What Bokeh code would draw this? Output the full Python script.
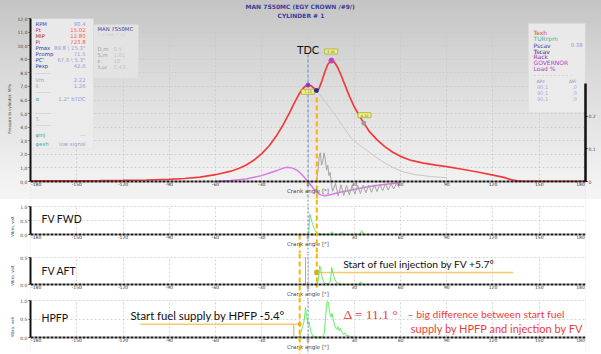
import numpy as np
from bokeh.plotting import figure
from bokeh.models import (Range1d, LinearAxis, FixedTicker, CustomJSTickFormatter,
                          Span, BoxAnnotation, Title)
from bokeh.layouts import column
from bokeh.embed import file_html
from bokeh.resources import INLINE
from bokeh.core.properties import value

# ---------------- data ----------------
angle_ticks = [-180, -150, -120, -90, -60, -30, 0, 30, 60, 90, 120, 150, 180]
pressure_ticks = [0, 1, 2, 3, 4, 5, 6, 7, 8, 9, 10, 11, 12]
right_ticks = [0, 0.1, 0.2]
vibro_ticks = [0, 0.5, 1.0]
vibro_ticks_aft = [0, 0.5]

# cylinder pressure, MPa
p_angle = [-180, -165, -150, -135, -120, -105, -90, -80, -70, -60, -50, -45, -40, -35, -30,
           -25, -20, -16, -12, -9, -6, -4, -2, 0, 2, 4, 5.5, 7, 9, 11, 13, 15.2, 17, 19, 21,
           24, 27, 30, 33, 36.2, 40, 45, 50, 55, 60, 67, 75, 83, 90, 100, 110, 120, 127, 132,
           136, 140, 160, 180]
p_cyl = [0.04, 0.04, 0.05, 0.06, 0.08, 0.11, 0.16, 0.22, 0.32, 0.50, 0.76, 0.96, 1.22, 1.58,
         2.05, 2.65, 3.45, 4.20, 5.05, 5.75, 6.40, 6.75, 7.00, 7.10, 7.05, 6.85, 6.70, 6.80,
         7.40, 8.10, 8.65, 8.90, 8.80, 8.45, 7.95, 7.10, 6.25, 5.50, 4.90, 4.30, 3.65, 3.05,
         2.55, 2.15, 1.85, 1.55, 1.35, 1.20, 1.10, 0.90, 0.70, 0.47, 0.30, 0.12, 0.04, 0.02,
         0.02, 0.02]

# compression (motoring) line after injection start, MPa
mot_angle = [5.5, 8, 11, 14, 17, 20, 24, 28, 32, 38, 44, 50, 56, 62, 70, 80, 90]
mot_p = [6.70, 6.35, 5.90, 5.45, 5.00, 4.50, 3.85, 3.20, 2.80, 2.30, 1.80, 1.35, 0.98, 0.70,
         0.50, 0.36, 0.28]

# heat release trace (right axis)
hr_angle = [-60, -50, -40, -30, -25, -20, -16, -13.5, -10, -7, -5, -3, -1, 0, 2, 4, 6, 8, 11,
            15, 20, 25, 32, 40, 48, 55, 60]
hr_val = [0.0, 0.003, 0.008, 0.018, 0.026, 0.034, 0.041, 0.044, 0.041, 0.034, 0.026, 0.016,
          0.005, 0.0, -0.012, -0.024, -0.034, -0.041, -0.044, -0.040, -0.034, -0.029, -0.022,
          -0.015, -0.010, -0.006, -0.004]

# vibration trace in cylinder panel (right axis)
vib_angle = [5.5, 6.5, 7.3, 8.0, 8.8, 9.6, 10.4, 11.2, 12.0, 12.8, 13.6, 14.4, 15.2, 16.0,
             17.8, 19.6, 21.4, 23.2, 25.0, 26.8, 28.6, 30.4, 32.2, 34.0, 35.8, 37.6, 39.4,
             41.2, 43.0, 44.8, 46.6, 48.4, 50.2, 52.0, 53.8, 55.6, 57.4, 59.2]
vib_val = [0.000, 0.035, 0.078, 0.088, 0.050, 0.062, 0.088, 0.068, 0.035, 0.050, 0.018, 0.028,
           -0.010, -0.030, -0.006, -0.044, -0.010, -0.043, -0.012, -0.041, -0.012, -0.039,
           -0.012, -0.037, -0.011, -0.035, -0.011, -0.033, -0.010, -0.031, -0.009, -0.028,
           -0.008, -0.026, -0.007, -0.023, -0.006, -0.019]

# FV FWD vibro, volt
fwd_angle = [-3, -1, 0.5, 1.2, 2.0, 3.0, 4.0, 5.0, 6.0, 8.0, 14.5, 15.5, 16.5, 21, 22, 23,
             33.5, 34.8, 36, 40]
fwd_val = [0, 0, 0.05, 0.72, 0.55, 0.36, 0.22, 0.10, 0.04, 0.01, 0.0, 0.10, 0.0, 0.0, 0.07,
           0.0, 0.0, 0.14, 0.0, 0]

# FV AFT vibro, volt
aft_angle = [4, 5.7, 6.5, 7.6, 8.3, 9.0, 10.0, 11.0, 13.0, 14.5, 15.4, 16.3, 17.3, 18.5, 20.0,
             21.5, 33.0, 34.2, 35.5, 40]
aft_val = [0, 0, 0.05, 0.35, 0.26, 0.15, 0.06, 0.02, 0.01, 0.05, 0.31, 0.20, 0.10, 0.04, 0.02,
           0.0, 0.0, 0.05, 0.0, 0]

# HPFP vibro, volt
hp_angle = [-8, -5.4, -4.5, -3.5, -2.5, -1.6, -0.8, 0.0, 0.8, 1.6, 2.5, 3.5, 5.0, 9.0, 10.5,
            11.5, 12.3, 13.2, 14.0, 14.8, 15.6, 16.5, 17.5, 18.5, 19.3, 20.2, 21.0, 22.0, 23.0,
            24.0, 25.0, 26.0, 27.0, 30.0]
hp_val = [0, 0.02, 0.15, 0.30, 0.45, 0.81, 0.55, 0.35, 0.42, 0.20, 0.10, 0.03, 0.01, 0.01, 0.10,
          0.60, 0.97, 0.95, 0.70, 0.55, 0.65, 0.45, 0.30, 0.22, 0.30, 0.18, 0.25, 0.15, 0.08,
          0.12, 0.04, 0.06, 0.02, 0.0]

tdc_angle = 0.0
inj_angle = 5.7
supply_angle = -5.4
key_angle = [0.0, 5.5, 15.2, 36.2]
key_p = [7.10, 6.70, 8.90, 4.30]
tag_text = ["7.10", "8.90", "4.30"]
inj_level = 0.22
inj_line_end = 133
supply_level = 0.36
supply_line_start = -108.7
cursor_aft = -1.6
cursor_hpfp = -9.2

info_lab = ["RPM", "Pt", "MIP", "Pi", "Pmax", "Pcomp", "PC'", "Pexp", "--------", "Vm", "λ",
            "--------", "α", "--------", "Tᵢ", "--------", "φinj", "φexh"]
info_val = ["90.4", "15.02", "12.80", "723.8", "89.8 \\ 15.3°", "71.5", "67.6 \\ 5.3°", "42.6",
            "", "2.22", "1.26", "", "1.2° bTDC", "", "", "", "---", "low signal"]
eng_lab = ["MAN 7S50MC", "2-stroke, 7 cyl", "D,m", "S,m", "ε", "λ,ω"]
eng_val = ["", "", "0.5", "1.01", "10", "0.43"]
sig_lab = ["Texh", "TURrpm", "Pscav", "Tscav", "Rack", "GOVERNOR", "Load %", "- - - - - - - - - -"]
sig_val = ["", "", "0.38", "", "", "", "", ""]
dp_head = ["ΔPz", "ΔPi"]
dp_pz = ["90,1", "90,1", "90,1"]
dp_pi = [",0", ",0", ",0"]

# ---------------- layout helpers ----------------
FONT = "DejaVu Sans"
BIG = "Lato"
FW = 555
MAIN_H = 181            # frame height of the cylinder panel
ZERO_FROM_TOP = 163     # pixel distance of 0 MPa from frame top
Y0 = -12.0 * (MAIN_H - ZERO_FROM_TOP) / ZERO_FROM_TOP
R0 = -0.5 * (MAIN_H - ZERO_FROM_TOP) / ZERO_FROM_TOP

X_FMT = """
var s = tick.toFixed(0);
if (tick <= -180) { return '\\u00a0\\u00a0\\u00a0\\u00a0\\u00a0\\u00a0\\u00a0\\u00a0' + s; }
if (tick >= 180) { return s + '\\u00a0\\u00a0\\u00a0\\u00a0\\u00a0\\u00a0\\u00a0'; }
return s;
"""


def ypx(px):
    return (179.0 - px) * 12.0 / 163.0


def xpx(px):
    return (px - 307.5) * 360.0 / 555.0


def make_fig(frame_h, y0, y1, top, bottom, yticks, ybound, cover):
    p = figure(frame_width=FW, frame_height=frame_h,
               x_range=Range1d(-180.0001, 180.0001), y_range=Range1d(y0, y1),
               output_backend="svg", toolbar_location=None, title=None,
               min_border_left=30, min_border_right=16,
               min_border_top=top, min_border_bottom=bottom)
    p.outline_line_color = None
    xa = p.xaxis[0]
    xa.fixed_location = 0
    xa.ticker = FixedTicker(ticks=angle_ticks)
    xa.formatter = CustomJSTickFormatter(code=X_FMT)
    xa.axis_label = "Crank angle [°]"
    xa.axis_line_color = "#1a1a1a"
    xa.axis_line_width = 2.2
    xa.axis_line_dash = "3 1"
    xa.major_tick_out = 0
    xa.major_tick_in = 0
    xa.minor_tick_out = 0
    xa.minor_tick_in = 0
    xa.major_tick_line_color = None
    xa.minor_tick_line_color = None
    xa.major_label_text_font = FONT
    xa.major_label_text_font_size = "4.5px"
    xa.major_label_text_color = "#333333"
    xa.major_label_standoff = 0
    xa.axis_label_text_font = FONT
    xa.axis_label_text_font_size = "5.5px"
    xa.axis_label_text_font_style = "normal"
    xa.axis_label_text_color = "#444444"
    xa.axis_label_standoff = -2
    ya = p.yaxis[0]
    ya.ticker = FixedTicker(ticks=yticks)
    ya.bounds = (0, ybound)
    ya.axis_line_color = "#111111"
    ya.axis_line_width = 2
    ya.major_tick_out = 2
    ya.major_tick_in = 0
    ya.major_tick_line_color = "#444444"
    ya.minor_tick_line_color = None
    ya.formatter = CustomJSTickFormatter(code="return tick.toFixed(1).replace('.', ',');")
    ya.major_label_text_font = FONT
    ya.major_label_text_font_size = "4.5px"
    ya.major_label_text_color = "#444444"
    ya.major_label_standoff = 1
    ya.axis_label_text_font = FONT
    ya.axis_label_text_font_size = "4px"
    ya.axis_label_text_font_style = "normal"
    ya.axis_label_text_color = "#444444"
    ya.axis_label_standoff = 2
    p.xgrid.ticker = FixedTicker(ticks=angle_ticks)
    p.ygrid.ticker = FixedTicker(ticks=yticks)
    for g in (p.xgrid[0], p.ygrid[0]):
        g.grid_line_color = "#c9c9c9"
        g.grid_line_dash = "2 2"
        g.grid_line_width = 0.8
    # hide the grid outside the plotting band (below 0 and above the top tick)
    p.add_layout(BoxAnnotation(top=0, fill_color=cover, fill_alpha=1, line_color=None,
                               level="underlay"))
    if y1 > ybound + 1e-3:
        pad = (y1 - y0) / frame_h * 0.6
        p.add_layout(BoxAnnotation(bottom=ybound + pad, fill_color=cover, fill_alpha=1,
                                   line_color=None, level="underlay"))
    return p


# ---------------- cylinder pressure panel ----------------
p1 = make_fig(MAIN_H, Y0, 12.0001, 16, 0, pressure_ticks, 12, "#f1f1f1")
p1.border_fill_alpha = 0
p1.background_fill_alpha = 0
p1.styles = {"background": "linear-gradient(to bottom, #c4c4c4 0px, #d6d6d6 60px, "
                           "#e6e6e6 130px, #f1f1f1 179px, #f4f4f4 197px)"}
p1.yaxis.axis_label = "Pressure in cylinder, MPa"
p1.extra_y_ranges = {"right": Range1d(R0, 0.5)}
rax = LinearAxis(y_range_name="right", ticker=FixedTicker(ticks=right_ticks), bounds=(0, 0.3),
                 formatter=CustomJSTickFormatter(code="return tick == 0 ? '0' : tick.toFixed(1);"))
rax.axis_line_color = "#111111"
rax.axis_line_width = 2.5
rax.major_tick_out = 2
rax.major_tick_in = 0
rax.minor_tick_line_color = None
rax.major_label_text_font = FONT
rax.major_label_text_font_size = "4.5px"
rax.major_label_text_color = "#444444"
rax.major_label_standoff = 1
p1.add_layout(rax, "right")

p1.add_layout(Title(text="CYLINDER # 1", align="left", offset=247, standoff=0,
                    text_font=FONT, text_font_size="6px", text_font_style="bold",
                    text_color="#3b3b9b"), "above")
p1.add_layout(Title(text="MAN 7S50MC (EGY CROWN /#9/)", align="left", offset=215, standoff=0,
                    text_font=FONT, text_font_size="6px", text_font_style="bold",
                    text_color="#3b3b9b"), "above")

# info boxes
p1.add_layout(BoxAnnotation(left=-180, right=xpx(93), top=12, bottom=ypx(146),
                            fill_color="#ececec", fill_alpha=0.92, line_color="#dadada",
                            level="underlay"))
p1.add_layout(BoxAnnotation(left=xpx(93), right=xpx(138), top=ypx(22), bottom=ypx(76),
                            fill_color="#e4e4e4", fill_alpha=0.92, line_color="#d6d6d6",
                            level="underlay"))
p1.add_layout(BoxAnnotation(left=xpx(528), right=180, top=ypx(21), bottom=ypx(110),
                            fill_color="#ececec", fill_alpha=0.92, line_color="#dadada",
                            level="underlay"))

info_lab_col = ["#3a3aa0", "#c0306c", "#a02848", "#b02a50", "#3030a0", "#3030a0", "#3030a0",
                "#3030a0", "#b0b0b0", "#a0a0a0", "#a0a0a0", "#b0b0b0", "#40a8a8", "#b0b0b0",
                "#a0a0a0", "#b0b0b0", "#40a8a8", "#40a8a8"]
info_val_col = ["#9a9ad6", "#ff5a5a", "#ff5a5a", "#ff5a5a", "#9a9ad6", "#9a9ad6", "#9a9ad6",
                "#9a9ad6", "#9a9ad6", "#9a9ad6", "#9a9ad6", "#9a9ad6", "#9a9ad6", "#9a9ad6",
                "#9a9ad6", "#9a9ad6", "#b0b0d8", "#9a9ad6"]
info_rows_px = [21.3, 27.3, 33.7, 39.7, 45.7, 51.7, 57.3, 63.7, 70.7, 77, 83.7, 89.3, 96, 110,
                116.3, 122.3, 132.3, 141.3]
iy = [ypx(v) for v in info_rows_px]
p1.text(x=[xpx(35)] * len(info_lab), y=iy, text=info_lab, text_color=info_lab_col,
        text_font=value(FONT), text_font_size=value("5.3px"), text_align="left",
        text_baseline="middle")
p1.text(x=[xpx(85)] * len(info_val), y=iy, text=info_val, text_color=info_val_col,
        text_font=value(FONT), text_font_size=value("5.3px"), text_align="right",
        text_baseline="middle")

ey = [ypx(v) for v in [26.7, 31.5, 46.7, 52.7, 58.7, 64.7]]
p1.text(x=[xpx(97)] * len(eng_lab), y=ey, text=eng_lab,
        text_color=["#3a3aa0", "#cfcfcf", "#a0a0a0", "#a0a0a0", "#a0a0a0", "#a0a0a0"],
        text_font=value(FONT), text_font_size=["5.3px", "4px", "5.3px", "5.3px", "5.3px", "5.3px"],
        text_align="left", text_baseline="middle")
p1.text(x=[xpx(113)] * len(eng_val), y=ey, text=eng_val, text_color="#c4c4c4",
        text_font=value(FONT), text_font_size=value("5.3px"), text_align="left",
        text_baseline="middle")

sy = [ypx(v) for v in [30, 36, 42.7, 48.7, 54.3, 60.3, 66.3, 72]]
p1.text(x=[xpx(533)] * len(sig_lab), y=sy, text=sig_lab,
        text_color=["#d04848", "#40b0a8", "#3838a0", "#282888", "#9030a0", "#b040c0",
                    "#b040c0", "#b8b8b8"],
        text_font=value(FONT), text_font_size=value("6px"), text_align="left",
        text_baseline="middle")
p1.text(x=[xpx(582)] * len(sig_val), y=sy, text=sig_val, text_color="#9a9ad6",
        text_font=value(FONT), text_font_size=value("5.3px"), text_align="right",
        text_baseline="middle")
p1.text(x=[xpx(540), xpx(572)], y=[ypx(78.7)] * 2, text=dp_head, text_color="#9090b8",
        text_font=value(FONT), text_font_size=value("4.5px"), text_align="center",
        text_baseline="middle")
dy = [ypx(v) for v in [84.7, 90.7, 96.7]]
p1.text(x=[xpx(542)] * 3, y=dy, text=dp_pz, text_color="#a8a8d8", text_font=value(FONT),
        text_font_size=value("5px"), text_align="center", text_baseline="middle")
p1.text(x=[xpx(574)] * 3, y=dy, text=dp_pi, text_color="#a8a8d8", text_font=value(FONT),
        text_font_size=value("5px"), text_align="center", text_baseline="middle")

# curves
p1.line(mot_angle, mot_p, line_color="#c8c8c8", line_width=1)
p1.line(hr_angle, hr_val, y_range_name="right", line_color="#dc78e6", line_width=1.5)
p1.line(vib_angle, vib_val, y_range_name="right", line_color="#a6a6a6", line_width=1)
p1.line(p_angle, p_cyl, line_color="#f23c3c", line_width=1.7)

# TDC and injection markers
p1.segment(x0=[tdc_angle], y0=[ypx(52)], x1=[tdc_angle], y1=[Y0], line_color="#6688cc",
           line_width=1, line_dash="3 2")
p1.segment(x0=[inj_angle], y0=[ypx(95)], x1=[inj_angle], y1=[Y0], line_color="#f7b500",
           line_width=2, line_dash="5 3")
p1.text(x=[tdc_angle], y=[ypx(46.5)], text=["TDC"], text_color="#111111",
        text_font=value(BIG), text_font_size=value("11px"), text_align="center",
        text_baseline="middle")
tag_x = [xpx(307.3), xpx(330.7), xpx(364)]
tag_y = [ypx(89.3), ypx(49), ypx(112.7)]
p1.rect(x=tag_x, y=tag_y, width=13, height=5, width_units="screen", height_units="screen",
        fill_color="#f2f27e", line_color="#a8a840", line_width=0.8)
p1.text(x=tag_x, y=tag_y, text=tag_text, text_color="#808040", text_font=value(FONT),
        text_font_size=value("3.5px"), text_align="center", text_baseline="middle")
p1.scatter(key_angle, key_p, size=[4, 4, 5, 4], marker="circle",
           fill_color=["#8a3cc8", "#2030a0", "#c040c8", "#9a9a9a"],
           line_color=["#8a3cc8", "#2030a0", "#c040c8", "#9a9a9a"])


def tdc_span(p):
    p.add_layout(Span(location=tdc_angle, dimension="height", line_color="#6688cc",
                      line_width=1, line_dash="2 2"))


def orange_span(p, loc):
    p.add_layout(Span(location=loc, dimension="height", line_color="#f7b500",
                      line_width=2, line_dash="5 3"))


# ---------------- FV FWD ----------------
# figure rows 197..251: 1.0 at 7 px below top, 0 at 35 px below top
p2 = make_fig(54, -19.0 / 28, 1 + 7.0 / 28, 0, 0, vibro_ticks, 1.0, "#ffffff")
p2.yaxis.axis_label = "Vibro, volt"
tdc_span(p2)
orange_span(p2, inj_angle)
p2.segment(x0=[supply_angle], y0=[0], x1=[supply_angle], y1=[-19.0 / 28], line_color="#f7b500",
           line_width=2, line_dash="5 3")
p2.line(fwd_angle, fwd_val, line_color="#66ee66", line_width=1)
p2.text(x=[xpx(41)], y=[0.571], text=["FV FWD"], text_color="#111111", text_font=value(BIG),
        text_font_size=value("10.5px"), text_align="left", text_baseline="middle")

# ---------------- FV AFT ----------------
# figure rows 251..295: 0.5 at 4 px below top, 0 at 31 px below top
p3 = make_fig(44, -13.0 / 54, 0.5 + 4.0 / 54, 0, 0, vibro_ticks_aft, 0.5, "#ffffff")
p3.yaxis.axis_label = "Vibro, volt"
tdc_span(p3)
orange_span(p3, supply_angle)
p3.segment(x0=[inj_angle], y0=[0.5 + 4.0 / 54], x1=[inj_angle], y1=[-3.0 / 54],
           line_color="#f7b500", line_width=2, line_dash="5 3")
p3.segment(x0=[cursor_aft], y0=[0], x1=[cursor_aft], y1=[0.5], line_color="#555555",
           line_width=1, line_dash="1 1")
p3.segment(x0=[inj_angle], y0=[inj_level], x1=[inj_line_end], y1=[inj_level],
           line_color="#f8c86a", line_width=1.5)
p3.scatter([inj_angle], [inj_level], marker="square", size=4, color="#f0a020")
p3.line(aft_angle, aft_val, line_color="#66ee66", line_width=1)
p3.text(x=[xpx(41)], y=[0.259], text=["FV AFT"], text_color="#111111", text_font=value(BIG),
        text_font_size=value("10.5px"), text_align="left", text_baseline="middle")
p3.text(x=[xpx(342.7)], y=[0.376], text=["Start of fuel injection by FV +%.1f°" % inj_angle],
        text_color="#111111", text_font=value(BIG), text_font_size=value("10.3px"),
        text_align="left", text_baseline="middle")

# ---------------- HPFP ----------------
# figure rows 295..354: 1.0 at 3 px below top, 0 at 40 px below top
p4 = make_fig(59, -19.0 / 37, 1 + 3.0 / 37, 0, 0, vibro_ticks, 1.0, "#ffffff")
p4.yaxis.axis_label = "Vibro, volt"
tdc_span(p4)
orange_span(p4, supply_angle)
p4.segment(x0=[cursor_hpfp], y0=[0], x1=[cursor_hpfp], y1=[supply_level], line_color="#555555",
           line_width=1, line_dash="1 1")
p4.segment(x0=[supply_line_start], y0=[supply_level], x1=[supply_angle], y1=[supply_level],
           line_color="#f8c86a", line_width=1.5)
p4.scatter([supply_angle], [supply_level], marker="diamond", size=5, color="#f0a020")
p4.line(hp_angle, hp_val, line_color="#66ee66", line_width=1)
p4.text(x=[xpx(41)], y=[0.54], text=["HPFP"], text_color="#111111", text_font=value(BIG),
        text_font_size=value("10.5px"), text_align="left", text_baseline="middle")
p4.text(x=[xpx(130)], y=[0.595], text=["Start fuel supply by HPFP %.1f°" % supply_angle],
        text_color="#111111", text_font=value(BIG), text_font_size=value("11.3px"),
        text_align="left", text_baseline="middle")
p4.text(x=[xpx(343)], y=[0.63], text=["Δ  = %.1f °" % (inj_angle - supply_angle)],
        text_color="#f03a3a", text_font=value("Liberation Serif"), text_font_size=value("13.5px"),
        text_align="left", text_baseline="middle")
p4.text(x=[xpx(407)], y=[0.63], text=["– big difference between start fuel"],
        text_color="#f03a3a", text_font=value(BIG), text_font_size=value("10.4px"),
        text_align="left", text_baseline="middle")
p4.text(x=[xpx(583)], y=[0.243], text=["supply by HPFP and injection by FV"],
        text_color="#f03a3a", text_font=value(BIG), text_font_size=value("11px"),
        text_align="right", text_baseline="middle")

layout = column(p1, p2, p3, p4, spacing=0)
open("out.html", "w").write(file_html(layout, INLINE))
